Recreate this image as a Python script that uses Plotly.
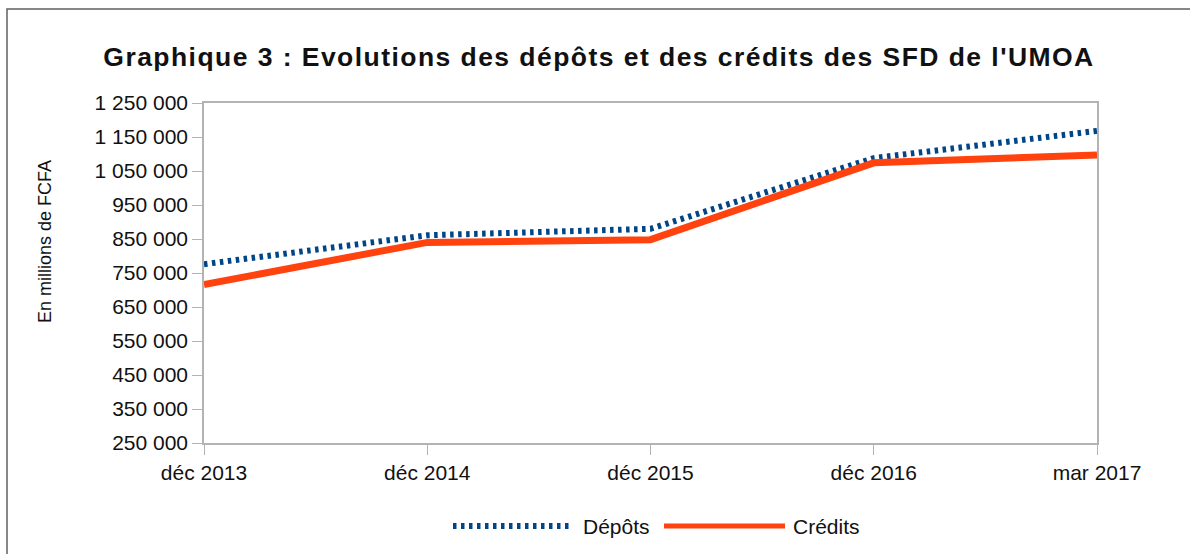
import plotly.graph_objects as go

categories = ["déc 2013", "déc 2014", "déc 2015", "déc 2016", "mar 2017"]
depots = [776000, 861000, 880000, 1088000, 1168000]
credits = [716000, 840000, 848000, 1074000, 1097000]
y_ticks = [250000, 350000, 450000, 550000, 650000, 750000, 850000, 950000, 1050000, 1150000, 1250000]

W, H = 1190, 554
L, R, T, B = 204, 1097, 103, 443
pw, ph = R - L, B - T

def px(x):
    return (x - L) / pw

def py(y):
    return (B - y) / ph

BLUE = "#004586"
ORANGE = "#ff420e"
FONT = "Liberation Sans, Arial, sans-serif"

fig = go.Figure()
fig.add_trace(go.Scatter(x=categories, y=depots, mode="lines", name="Dépôts",
                         line=dict(color=BLUE, width=6, dash="3.5px,4.5px"), showlegend=False))
fig.add_trace(go.Scatter(x=categories, y=credits, mode="lines", name="Crédits",
                         line=dict(color=ORANGE, width=7), showlegend=False))

shapes = [
    dict(type="rect", xref="paper", yref="paper", x0=px(7), x1=px(1200), y0=py(9), y1=py(570),
         line=dict(color="#606060", width=1.5), fillcolor="rgba(0,0,0,0)", layer="below"),
    dict(type="line", xref="paper", yref="paper", x0=px(453), x1=px(573), y0=py(526), y1=py(526),
         line=dict(color=BLUE, width=6, dash="3.5px,4.5px")),
    dict(type="line", xref="paper", yref="paper", x0=px(664), x1=px(785), y0=py(526), y1=py(526),
         line=dict(color=ORANGE, width=5)),
]
annotations = [
    dict(text="Dépôts", xref="paper", yref="paper", x=px(581), y=py(526), xanchor="left", yanchor="middle",
         showarrow=False, font=dict(size=21, color="#111", family=FONT)),
    dict(text="Crédits", xref="paper", yref="paper", x=px(791), y=py(526), xanchor="left", yanchor="middle",
         showarrow=False, font=dict(size=21, color="#111", family=FONT)),
    dict(text="En millions de FCFA", xref="paper", yref="paper", x=px(45), y=py(242), textangle=-90,
         xanchor="center", yanchor="middle", showarrow=False, font=dict(size=18, color="#111", family=FONT)),
]

fig.update_layout(
    width=W, height=H,
    margin=dict(l=L, r=W - R, t=T, b=H - B, pad=0),
    paper_bgcolor="white", plot_bgcolor="white",
    separators=", ",
    font=dict(family=FONT, color="#111", size=21),
    title=dict(text="<b>Graphique 3 : Evolutions des dépôts et des crédits des SFD de l'UMOA</b>",
               x=(599 / W), xanchor="center", y=1 - 57 / H, yanchor="middle",
               font=dict(size=26.5, family=FONT, color="#111")),
    shapes=shapes, annotations=annotations, showlegend=False,
)
fig.update_xaxes(type="category", range=[0, len(categories) - 1], showline=True, linecolor="#b3b3b3",
                 linewidth=1.5, mirror=True, ticks="outside", ticklen=10, tickcolor="#b3b3b3",
                 showgrid=False, zeroline=False, tickfont=dict(size=21))
fig.update_yaxes(range=[250000, 1250000], tickvals=y_ticks, tickformat=",d", showline=True,
                 linecolor="#b3b3b3", linewidth=1.5, mirror=True, ticks="outside", ticklen=10,
                 tickcolor="#b3b3b3", showgrid=False, zeroline=False, tickfont=dict(size=21))

post = (
    "document.body.style.margin='0';document.body.style.overflow='hidden';"
    "document.querySelectorAll('.gtitle').forEach(function(e){e.style.letterSpacing='1.45px';});"
)
fig.write_html("out.html", config={"displayModeBar": False}, post_script=post)
